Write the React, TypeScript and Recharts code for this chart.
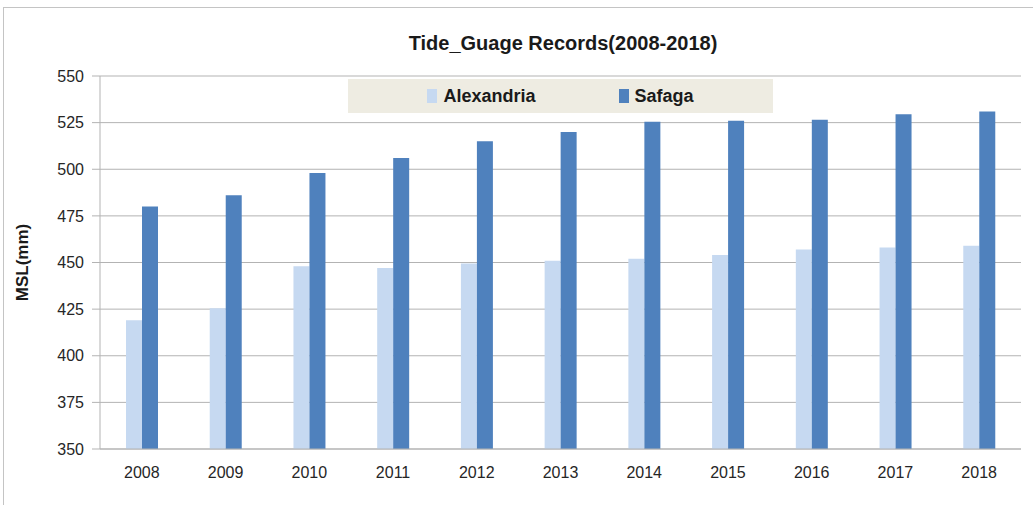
import React from "react";
import {
  BarChart,
  Bar,
  XAxis,
  YAxis,
  CartesianGrid,
  Legend,
  Label,
} from "recharts";

// tide gauge mean sea level, mm
const YEARS = ["2008", "2009", "2010", "2011", "2012", "2013", "2014", "2015", "2016", "2017", "2018"];
const ALEXANDRIA = [419, 425.5, 448, 447, 449.5, 451, 452, 454, 457, 458, 459];
const SAFAGA = [480, 486, 498, 506, 515, 520, 525.5, 526, 526.5, 529.5, 531];
const Y_TICKS = [350, 375, 400, 425, 450, 475, 500, 525, 550];

const COLORS = {
  Alexandria: "#c6d9f1",
  Safaga: "#4f81bd",
};

const FONT = "'Liberation Sans', Arial, sans-serif";
const GRID = "#b3b3b3";

const data = YEARS.map((year, i) => ({
  year,
  Alexandria: ALEXANDRIA[i],
  Safaga: SAFAGA[i],
}));

function LegendBox({ payload }: any) {
  return (
    <div
      style={{
        width: 425,
        height: 34,
        background: "#eeece2",
        display: "flex",
        alignItems: "center",
        justifyContent: "center",
        fontFamily: FONT,
        fontWeight: "bold",
        fontSize: 18,
        color: "#1a1a1a",
      }}
    >
      {(payload || []).map((p: any, i: number) => (
        <div
          key={p.value}
          style={{ display: "flex", alignItems: "center", marginLeft: i === 0 ? 0 : 83 }}
        >
          <span style={{ width: 10, height: 14, background: p.color, marginRight: 6 }} />
          <span>{p.value}</span>
        </div>
      ))}
    </div>
  );
}

export default function App() {
  return (
    <div style={{ position: "absolute", left: 0, top: 0, width: 1033, height: 505, background: "#fff", overflow: "hidden" }}>
      {/* outer chart frame */}
      <div
        style={{
          position: "absolute",
          left: 3,
          top: 7,
          width: 1040,
          height: 520,
          border: "1px solid #c4c4c4",
        }}
      />
      <div
        style={{
          position: "absolute",
          left: 313,
          top: 32,
          width: 500,
          textAlign: "center",
          fontFamily: FONT,
          fontWeight: "bold",
          fontSize: 20,
          color: "#1a1a1a",
        }}
      >
        Tide_Guage Records(2008-2018)
      </div>
      <div style={{ position: "absolute", left: 0, top: 0 }}>
        <BarChart
          width={1033}
          height={505}
          data={data}
          margin={{ top: 76, right: 12, left: 0, bottom: 26 }}
          barGap={0}
          barSize={16}
        >
          <CartesianGrid yAxisId="left" vertical={false} stroke={GRID} />
          <XAxis
            dataKey="year"
            axisLine={{ stroke: GRID }}
            tickLine={false}
            tickMargin={12}
            height={30}
            tick={{ fill: "#262626", fontSize: 16, fontFamily: FONT }}
          />
          <YAxis
            yAxisId="left"
            width={100}
            domain={[350, 550]}
            ticks={Y_TICKS}
            interval={0}
            axisLine={{ stroke: GRID }}
            tickLine={{ stroke: GRID }}
            tickSize={8}
            tickMargin={8}
            tick={{ fill: "#262626", fontSize: 16, fontFamily: FONT }}
          >
            <Label
              value="MSL(mm)"
              angle={-90}
              position="center"
              dx={-28}
              style={{ fontFamily: FONT, fontWeight: "bold", fontSize: 17, fill: "#1a1a1a" }}
            />
          </YAxis>
          <YAxis
            yAxisId="right"
            orientation="right"
            width={0}
            domain={[350, 550]}
            tick={false}
            tickLine={false}
            axisLine={{ stroke: GRID }}
          />
          <Legend
            layout="vertical"
            align="center"
            verticalAlign="middle"
            wrapperStyle={{ top: 79, left: 348, width: 425 }}
            content={<LegendBox />}
          />
          <Bar yAxisId="left" dataKey="Alexandria" fill={COLORS.Alexandria} isAnimationActive={false} />
          <Bar yAxisId="left" dataKey="Safaga" fill={COLORS.Safaga} isAnimationActive={false} />
        </BarChart>
      </div>
    </div>
  );
}
